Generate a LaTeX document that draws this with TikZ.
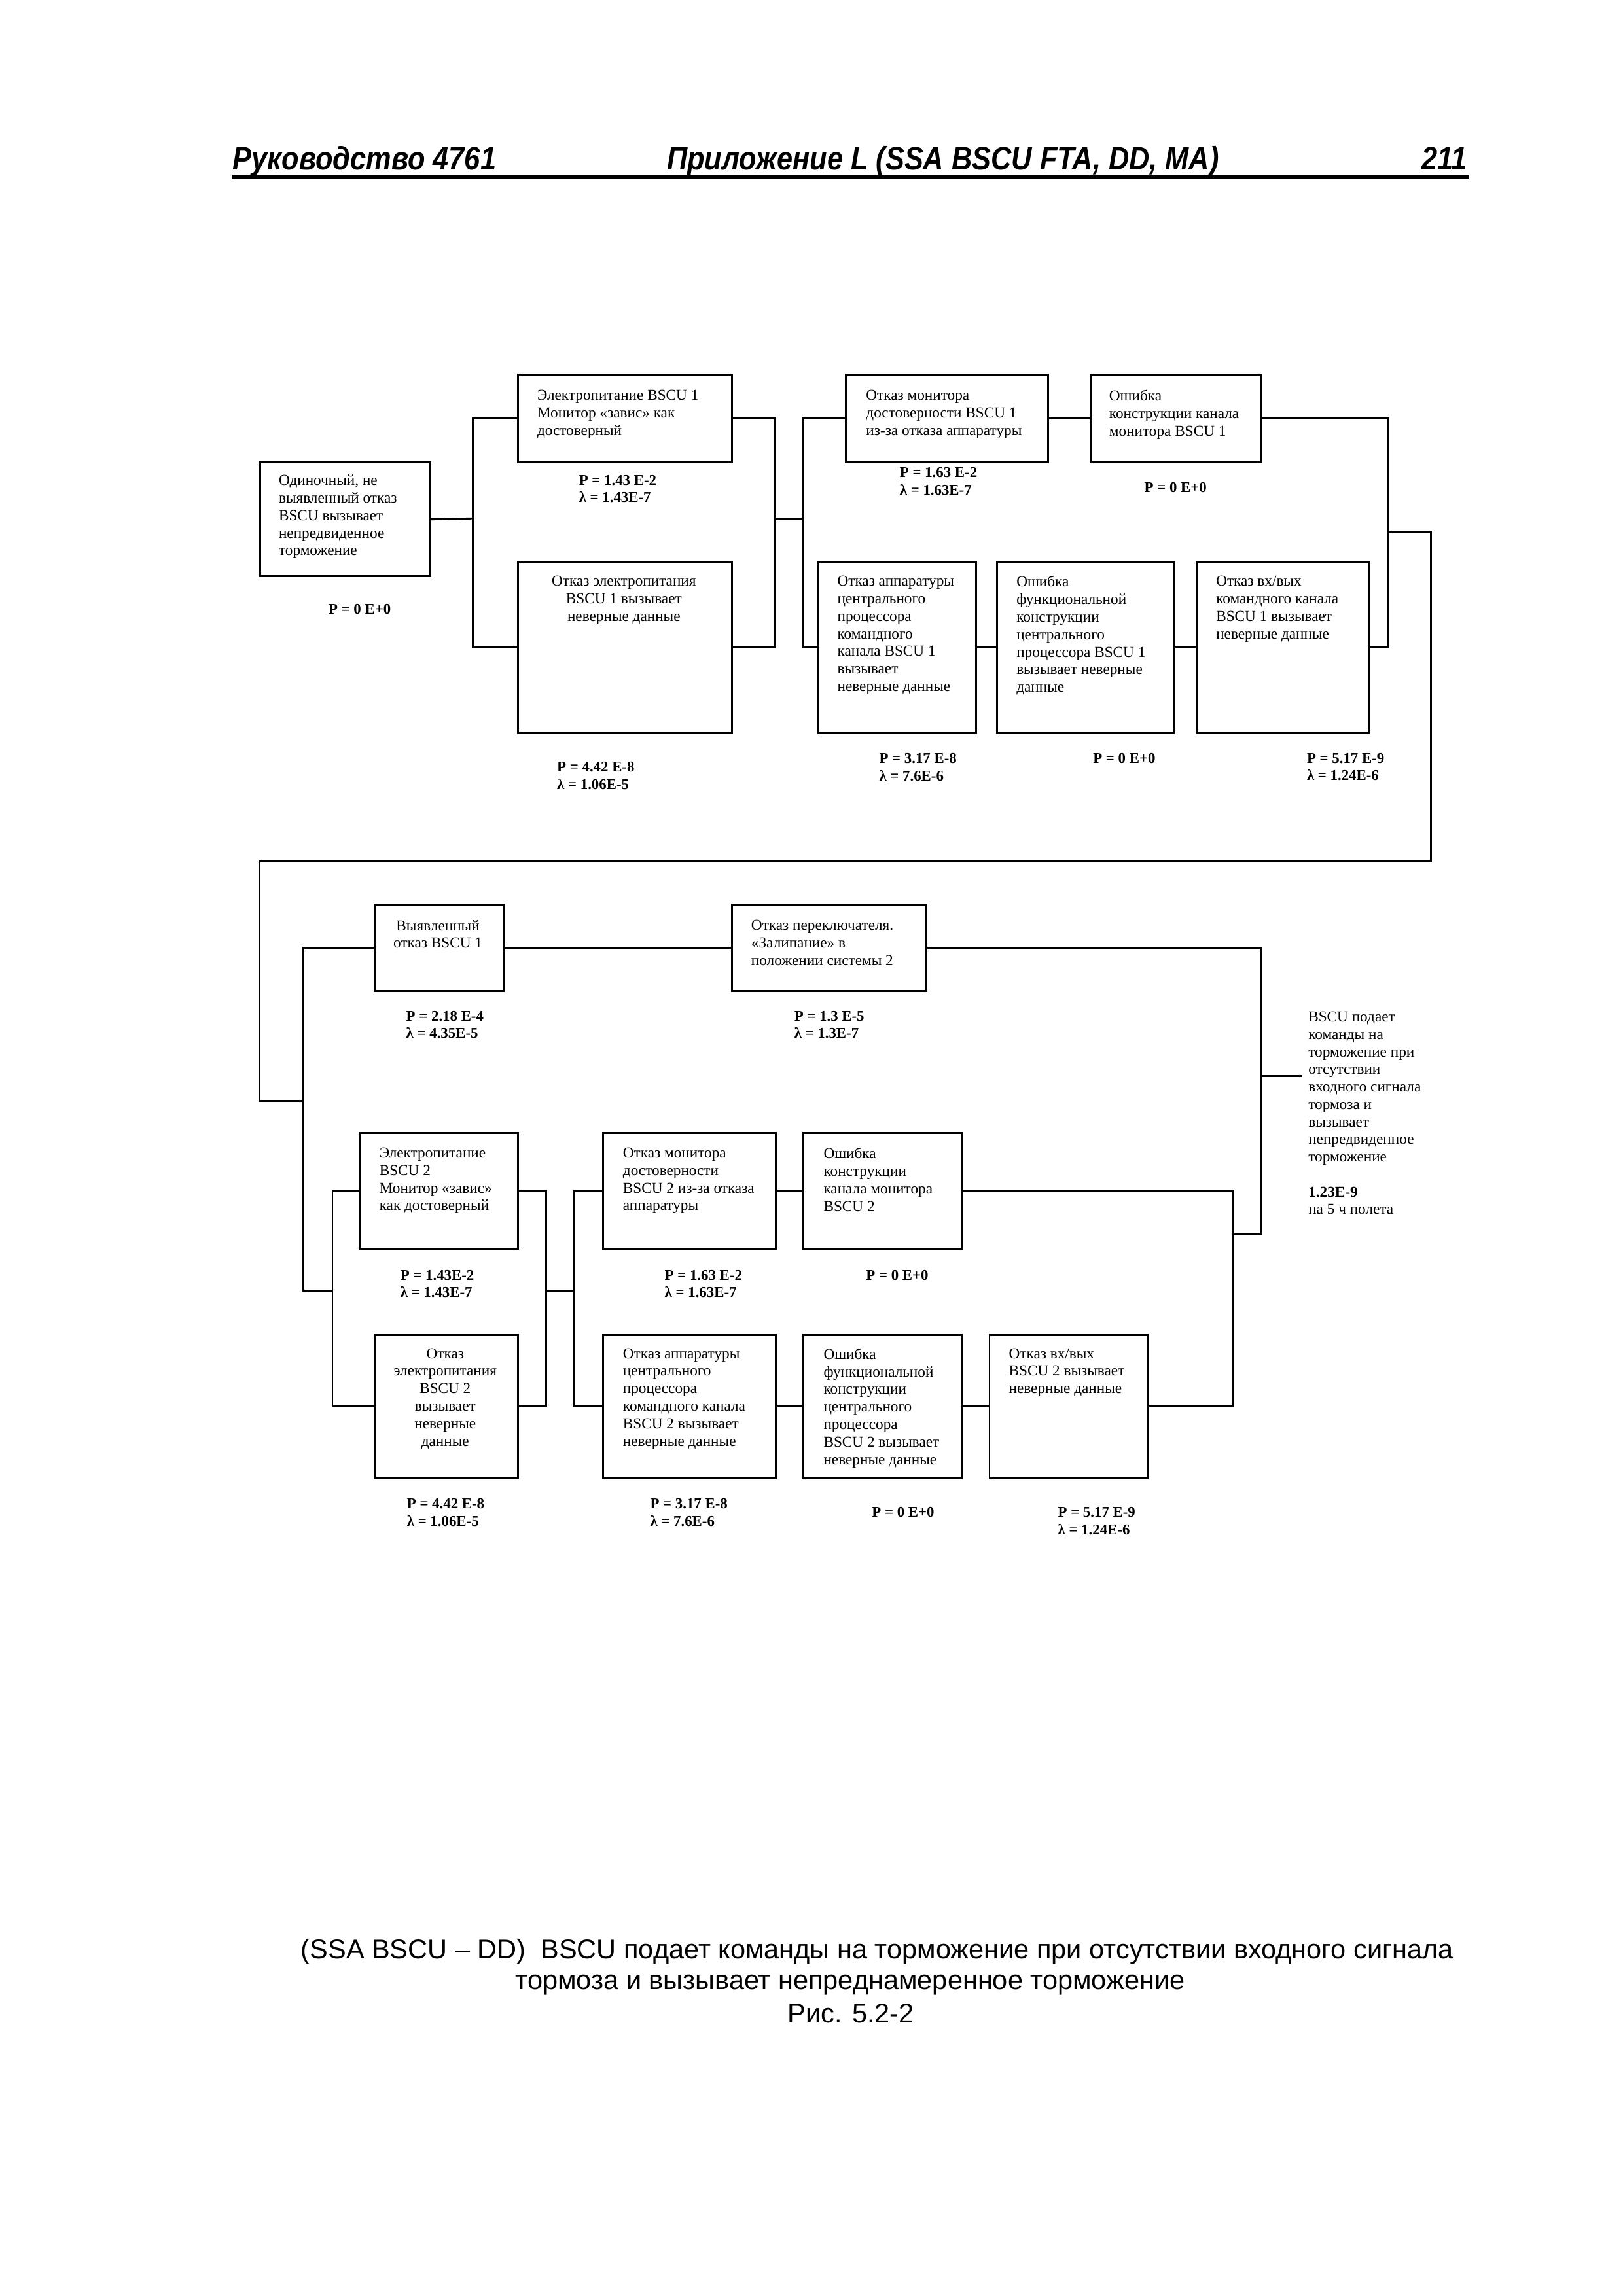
\documentclass[tikz,border=0pt]{standalone}
\usepackage{fontspec}
\setmainfont{Liberation Serif}
\newfontfamily\sansfam{Liberation Sans}
\newfontfamily\hdrfam{Liberation Sans}[FakeStretch=0.87]

\def\px{0.018953cm}
\tikzset{
  blk/.style 2 args={draw, line width=0.7pt, anchor=north west, inner sep=0pt,
    minimum width=#1*\px, minimum height=#2*\px},
  txt/.style={font=\fontsize{5.6}{6.45}\selectfont, align=left, inner sep=0pt, anchor=north west},
  ctxt/.style={txt, align=center, anchor=north},
  val/.style={font=\bfseries\fontsize{5.5}{6.45}\selectfont, align=left, inner sep=0pt, anchor=north west},
  wire/.style={line width=0.7pt},
  hdr/.style={font=\hdrfam\bfseries\itshape\fontsize{12}{14}\selectfont, inner sep=0pt},
  captext/.style={font=\sansfam\fontsize{10}{12}\selectfont, inner sep=0pt, anchor=base},
}

\begin{document}
\begin{tikzpicture}[x=\px, y=-\px]
	\useasboundingbox (0,0) rectangle (1108,1568);

	% --- Page header ---
	\node[hdr, anchor=base west] (hleft) at (158.6,116) {Руководство 4761};
	\node[hdr, anchor=base west] (hmid) at (455,116) {Приложение L (SSA BSCU FTA, DD, MA)};
	\node[hdr, anchor=base east] (hpage) at (1002,116) {211};
	\draw[line width=1.45pt] (158.6,120.5) -- (1003,120.5);

	% --- BSCU 1 blocks ---
	\node[blk={116}{78}] (b0) at (177,315) {};
	\node[blk={146}{60}] (b1) at (353,255) {};
	\node[blk={146}{117}] (b2) at (353,383) {};
	\node[blk={138}{60}] (b3) at (577,255) {};
	\node[blk={116}{60}] (b4) at (744,255) {};
	\node[blk={108}{117}] (b5) at (558,383) {};
	\node[blk={121}{117}] (b6) at (680,383) {};
	\node[blk={117}{117}] (b7) at (817,383) {};

	\node[txt] (b0t) at (190,324) {Одиночный, не\\выявленный отказ\\BSCU вызывает\\непредвиденное\\торможение};
	\node[txt] (b1t) at (366.5,266) {Электропитание BSCU 1\\Монитор «завис» как\\достоверный};
	\node[ctxt] (b2t) at (426,393) {Отказ электропитания\\BSCU 1 вызывает\\неверные данные};
	\node[txt] (b3t) at (591,266) {Отказ монитора\\достоверности BSCU 1\\из-за отказа аппаратуры};
	\node[txt] (b4t) at (757,266) {Ошибка\\конструкции канала\\монитора BSCU 1};
	\node[txt] (b5t) at (571.4,393) {Отказ аппаратуры\\центрального\\процессора\\командного\\канала BSCU 1\\вызывает\\неверные данные};
	\node[txt] (b6t) at (693.7,393) {Ошибка\\функциональной\\конструкции\\центрального\\процессора BSCU 1\\вызывает неверные\\данные};
	\node[txt] (b7t) at (830,393) {Отказ вх/вых\\командного канала\\BSCU 1 вызывает\\неверные данные};

	\node[val] (b0v) at (224,412) {P = 0 E+0};
	\node[val] (b1v) at (395,324) {P = 1.43 E-2\\λ = 1.43E-7};
	\node[val] (b2v) at (380,520) {P = 4.42 E-8\\λ = 1.06E-5};
	\node[val] (b3v) at (614,319) {P = 1.63 E-2\\λ = 1.63E-7};
	\node[val] (b4v) at (781,329) {P = 0 E+0};
	\node[val] (b5v) at (600,514) {P = 3.17 E-8\\λ = 7.6E-6};
	\node[val] (b6v) at (746,514) {P = 0 E+0};
	\node[val] (b7v) at (892,514) {P = 5.17 E-9\\λ = 1.24E-6};

	% --- BSCU 2 blocks ---
	\node[blk={88}{59}] (c1) at (255,617) {};
	\node[blk={133}{59}] (c2) at (499,617) {};
	\node[blk={108}{79}] (d1) at (245,773) {};
	\node[blk={98}{98}] (d2) at (255,911) {};
	\node[blk={118}{79}] (e1) at (411,773) {};
	\node[blk={108}{79}] (e2) at (548,773) {};
	\node[blk={118}{98}] (f1) at (411,911) {};
	\node[blk={108}{98}] (f2) at (548,911) {};
	\node[blk={108}{98}] (f3) at (675,911) {};

	\node[ctxt] (c1t) at (299,628) {Выявленный\\отказ BSCU 1};
	\node[txt] (c2t) at (512.6,628) {Отказ переключателя.\\«Залипание» в\\положении системы 2};
	\node[txt] (d1t) at (258.7,783.5) {Электропитание\\BSCU 2\\Монитор «завис»\\как достоверный};
	\node[ctxt] (d2t) at (304,920.5) {Отказ\\электропитания\\BSCU 2\\вызывает\\неверные\\данные};
	\node[txt] (e1t) at (425,783.5) {Отказ монитора\\достоверности\\BSCU 2 из-за отказа\\аппаратуры};
	\node[txt] (e2t) at (562,783.5) {Ошибка\\конструкции\\канала монитора\\BSCU 2};
	\node[txt] (f1t) at (425,920.5) {Отказ аппаратуры\\центрального\\процессора\\командного канала\\BSCU 2 вызывает\\неверные данные};
	\node[txt] (f2t) at (562,920.5) {Ошибка\\функциональной\\конструкции\\центрального\\процессора\\BSCU 2 вызывает\\неверные данные};
	\node[txt] (f3t) at (688.5,920.5) {Отказ вх/вых\\BSCU 2 вызывает\\неверные данные};

	\node[val] (c1v) at (277,690) {P = 2.18 E-4\\λ = 4.35E-5};
	\node[val] (c2v) at (542,690) {P = 1.3 E-5\\λ = 1.3E-7};
	\node[val] (d1v) at (273,867) {P = 1.43E-2\\λ = 1.43E-7};
	\node[val] (e1v) at (453.5,867) {P = 1.63 E-2\\λ = 1.63E-7};
	\node[val] (e2v) at (591,867) {P = 0 E+0};
	\node[val] (d2v) at (277.5,1023) {P = 4.42 E-8\\λ = 1.06E-5};
	\node[val] (f1v) at (443.6,1023) {P = 3.17 E-8\\λ = 7.6E-6};
	\node[val] (f2v) at (595,1029) {P = 0 E+0};
	\node[val] (f3v) at (722,1029) {P = 5.17 E-9\\λ = 1.24E-6};

	% --- Top event ---
	\node[txt] (res) at (893,690.5) {BSCU подает\\команды на\\торможение при\\отсутствии\\входного сигнала\\тормоза и\\вызывает\\непредвиденное\\торможение\\[6.45pt]\textbf{1.23E-9}\\на 5 ч полета};

	% --- Junction points ---
	\coordinate (j1) at (323,354);
	\coordinate (j2) at (529,354);
	\coordinate (j3) at (548,354);
	\coordinate (j4) at (948,363);
	\coordinate (j5) at (977,363);
	\coordinate (k2) at (177,588);
	\coordinate (j7) at (207,752);
	\coordinate (j8) at (227,881.5);
	\coordinate (j9) at (861,735);
	\coordinate (j9e) at (889,735);
	\coordinate (j10) at (861,843);
	\coordinate (j11) at (842,843);
	\coordinate (j12) at (373,881.5);
	\coordinate (j13) at (392,881.5);

	% --- Connectors: BSCU 1 ---
	\draw[wire] (b0.east) -- (j1);
	\draw[wire] (b1.west) -| (j1) |- (b2.west);
	\draw[wire] (b1.east) -| (j2) |- (b2.east);
	\draw[wire] (j2) -- (j3);
	\draw[wire] (b3.west) -| (j3) |- (b5.west);
	\draw[wire] (b3.east) -- (b4.west);
	\draw[wire] (b5.east) -- (b6.west);
	\draw[wire] (b6.east) -- (b7.west);
	\draw[wire] (b4.east) -| (j4) |- (b7.east);
	\draw[wire] (j4) -- (j5) |- (k2) |- (j7);

	% --- Connectors: BSCU 2 ---
	\draw[wire] (c1.west) -| (j7) |- (j8);
	\draw[wire] (c1.east) -- (c2.west);
	\draw[wire] (c2.east) -| (j10) -- (j11);
	\draw[wire] (j9) -- (j9e);
	\draw[wire] (d1.west) -| (j8) |- (d2.west);
	\draw[wire] (d1.east) -| (j12) |- (d2.east);
	\draw[wire] (j12) -- (j13);
	\draw[wire] (e1.west) -| (j13) |- (f1.west);
	\draw[wire] (e1.east) -- (e2.west);
	\draw[wire] (f1.east) -- (f2.west);
	\draw[wire] (f2.east) -- (f3.west);
	\draw[wire] (e2.east) -| (j11) |- (f3.east);

	% --- Caption ---
	\node[captext] (cap1) at (599,1337.5) {(SSA BSCU – DD)\ \ BSCU подает команды на торможение при отсутствии входного сигнала};
	\node[captext] (cap2) at (580.5,1358.5) {тормоза и вызывает непреднамеренное торможение};
	\node[captext] (cap3) at (581,1381.5) {Рис. 5.2-2};
\end{tikzpicture}
\end{document}
